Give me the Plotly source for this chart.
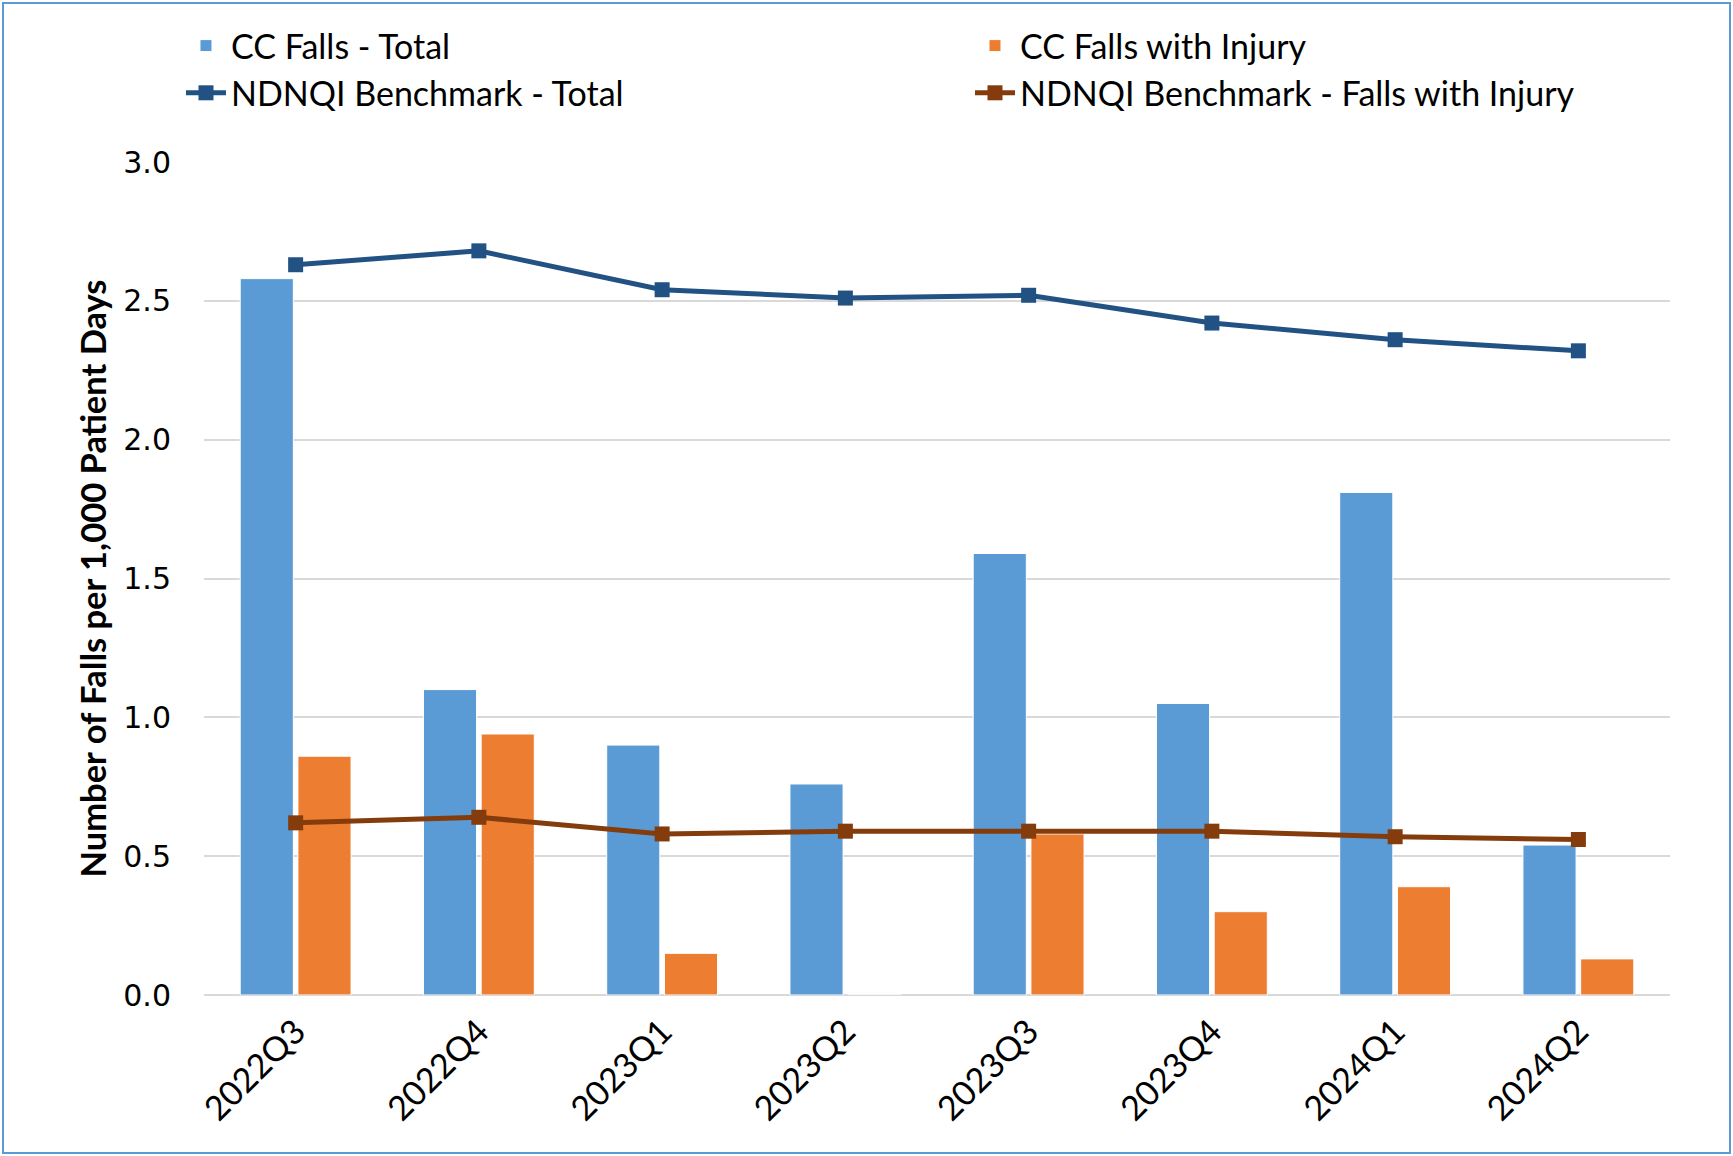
import plotly.graph_objects as go

# quarters on the x axis
quarters = ["2022Q3", "2022Q4", "2023Q1", "2023Q2", "2023Q3", "2023Q4", "2024Q1", "2024Q2"]

# rates per 1,000 patient days
cc_total = [2.58, 1.10, 0.90, 0.76, 1.59, 1.05, 1.81, 0.54]
cc_injury = [0.86, 0.94, 0.15, 0.0, 0.58, 0.30, 0.39, 0.13]
ndnqi_total = [2.63, 2.68, 2.54, 2.51, 2.52, 2.42, 2.36, 2.32]
ndnqi_injury = [0.62, 0.64, 0.58, 0.59, 0.59, 0.59, 0.57, 0.56]

y_ticks = [0, 0.5, 1.0, 1.5, 2.0, 2.5, 3.0]

W, H = 1733, 1156
ML, MR, MT, MB = 204, 63, 162, 161
pw, ph = W - ML - MR, H - MT - MB

TEXT_FONT = "Lato"
LEG_TOP = (H - MB - 17) / ph   # legend top, paper coords

fig = go.Figure()
# left legend column: totals, right column: with injury
fig.add_trace(go.Bar(x=quarters, y=cc_total, name="CC Falls - Total", legend="legend",
                     marker=dict(color="#5B9BD5", line=dict(color="white", width=1))))
fig.add_trace(go.Bar(x=quarters, y=cc_injury, name="CC Falls with Injury", legend="legend2",
                     marker=dict(color="#ED7D31", line=dict(color="white", width=1))))
fig.add_trace(go.Scatter(x=quarters, y=ndnqi_total, name="NDNQI Benchmark - Total",
                         legend="legend",
                         mode="lines+markers", line=dict(color="#215283", width=5),
                         marker=dict(symbol="square", size=15, color="#215283")))
fig.add_trace(go.Scatter(x=quarters, y=ndnqi_injury, name="NDNQI Benchmark - Falls with Injury",
                         legend="legend2",
                         mode="lines+markers", line=dict(color="#843C0C", width=5),
                         marker=dict(symbol="square", size=15, color="#843C0C")))

# thin blue frame round the whole chart area
fig.add_shape(type="rect", xref="paper", yref="paper",
              x0=(3 - ML) / pw, x1=(W - 3 - ML) / pw,
              y0=(H - MB - (H - 3)) / ph, y1=(H - MB - 3) / ph,
              line=dict(color="#5B9BD5", width=2), fillcolor="rgba(0,0,0,0)")

leg_common = dict(orientation="v", yanchor="top", y=LEG_TOP, xanchor="left",
                  traceorder="normal", font=dict(size=34, family=TEXT_FONT),
                  bgcolor="rgba(0,0,0,0)", itemwidth=40)

fig.update_layout(
    width=W, height=H,
    margin=dict(l=ML, r=MR, t=MT, b=MB, autoexpand=False),
    paper_bgcolor="white", plot_bgcolor="white",
    barmode="group", bargap=0.37, bargroupgap=0.08,
    font=dict(family=TEXT_FONT, color="black"),
    legend=dict(x=-0.0157, **leg_common),
    legend2=dict(x=0.5225, **leg_common),
    xaxis=dict(tickangle=-45, tickfont=dict(size=34, family=TEXT_FONT),
               ticks="outside", ticklen=2, tickcolor="rgba(0,0,0,0)",
               showline=False, showgrid=False),
    yaxis=dict(range=[0, 3], tickvals=y_ticks, tickformat=".1f",
               tickfont=dict(size=30, family="DejaVu Sans"),
               ticks="outside", ticklen=26, tickcolor="rgba(0,0,0,0)",
               gridcolor="#D9D9D9", gridwidth=1.5, zeroline=True,
               zerolinecolor="#D9D9D9", zerolinewidth=2,
               title=dict(text="<b>Number of Falls per 1,000 Patient Days</b>",
                          font=dict(size=34.5, family=TEXT_FONT), standoff=6)),
)

fig.write_html("out.html", config={"displayModeBar": False},
               post_script="document.body.style.margin='0';")
